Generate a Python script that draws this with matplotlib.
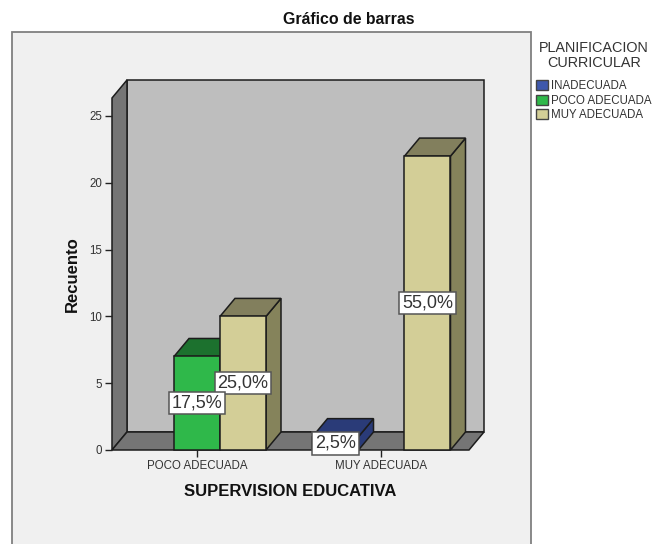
import matplotlib
matplotlib.use('Agg')
import matplotlib.pyplot as plt
from matplotlib.patches import Patch, Polygon, Rectangle

plt.rcParams['font.family']=['Liberation Sans','DejaVu Sans']

categories=['POCO ADECUADA','MUY ADECUADA']
series_names=['INADECUADA','POCO ADECUADA','MUY ADECUADA']
inadecuada=[0,1]
poco=[7,0]
muy=[10,22]
inadecuada_pct=['','2,5%']
poco_pct=['17,5%','']
muy_pct=['25,0%','55,0%']
yticks=[0,5,10,15,20,25]

W,H=653,544
fig=plt.figure(figsize=(W/100,H/100),dpi=100,facecolor='white')

# grey chart panel behind everything
fig.add_artist(Rectangle((12/W,-0.01),519/W,1.01-32/H,transform=fig.transFigure,
                         fc='#f0f0f0',ec='#808080',lw=1.3,zorder=-1))

ax=fig.add_axes([112/W,1-450/H,357/W,352/H])
ax.patch.set_visible(False)
ax.set_xlim(-85/184.5,272/184.5)
ax.set_ylim(0,352/13.36)
for s in ax.spines.values():
    s.set_visible(False)

dx=15/184.5
dy=18/13.36
bw=46/184.5
edge='#1c1c1c'
x0,x1=ax.get_xlim()
y0,y1=ax.get_ylim()

def poly(pts,fc,z):
    ax.add_patch(Polygon(pts,closed=True,fc=fc,ec=edge,lw=1.1,zorder=z,clip_on=False,joinstyle='miter'))

# walls
poly([(x0+dx,dy),(x0+dx,y1+dy),(x1+dx,y1+dy),(x1+dx,dy)],'#bebebe',1)
poly([(x0,0),(x0,y1),(x0+dx,y1+dy),(x0+dx,dy)],'#757575',1.1)
poly([(x0,0),(x0+dx,dy),(x1+dx,dy),(x1,0)],'#757575',1.2)

def bar3d(x,h,front,top,side,z):
    l=x-bw/2
    r=x+bw/2
    poly([(r,0),(r,h),(r+dx,h+dy),(r+dx,dy)],side,z)
    poly([(l,h),(l+dx,h+dy),(r+dx,h+dy),(r,h)],top,z)
    poly([(l,0),(l,h),(r,h),(r,0)],front,z)

colors=[('#3e58ac','#2a3b78','#2a3b78'),('#2fb84a','#1c712e','#1c712e'),('#d3ce97','#827f5d','#85835b')]
allvals=[inadecuada,poco,muy]
allpct=[inadecuada_pct,poco_pct,muy_pct]
for s,(vals,pct,c) in enumerate(zip(allvals,allpct,colors)):
    off=(s-1)*bw
    for i,v in enumerate(vals):
        if v==0:
            continue
        bar3d(i+off,v,c[0],c[1],c[2],3+s*0.1)

label_y=[[None,0.5],[3.5,None],[5.0,11.0]]
for s,(vals,pct) in enumerate(zip(allvals,allpct)):
    off=(s-1)*bw
    for i,v in enumerate(vals):
        if v==0:
            continue
        ax.text(i+off,label_y[s][i],pct[i],ha='center',va='center',fontsize=13,color='#333333',
                zorder=6+s*(-0.1),clip_on=False,
                bbox=dict(boxstyle='square,pad=0.15',fc='white',ec='#555555',lw=1.1))

ax.set_xticks([0,1],categories)
ax.set_yticks(yticks)
ax.tick_params(axis='both',length=5,width=1,color='#222222',labelcolor='#333333',labelsize=8.3,pad=2)
ax.set_xlabel('SUPERVISION EDUCATIVA',fontsize=12,fontweight='bold',color='#111111',labelpad=9)
ax.set_ylabel('Recuento',fontsize=12,fontweight='bold',color='#111111',labelpad=7)
fig.text(349/W,1-19/H,'Gráfico de barras',ha='center',va='center',fontsize=11.4,fontweight='bold',color='#111111')

handles=[Patch(fc=c[0],ec='#444444',lw=1) for c in colors]
leg=fig.legend(handles,series_names,title='PLANIFICACION\nCURRICULAR',loc='upper left',
               bbox_to_anchor=(536/W,1-41/H),frameon=False,fontsize=8.3,title_fontsize=10.4,
               handlelength=1.0,handleheight=1.0,handletextpad=0.3,labelspacing=0.2,
               borderpad=0,borderaxespad=0)
leg._legend_box.sep=7.2
leg.get_title().set_color('#333333')
leg.get_title().set_linespacing(1.1)
leg.get_title().set_multialignment('center')
for t in leg.get_texts():
    t.set_color('#333333')

fig.savefig('out.png',dpi=100)
